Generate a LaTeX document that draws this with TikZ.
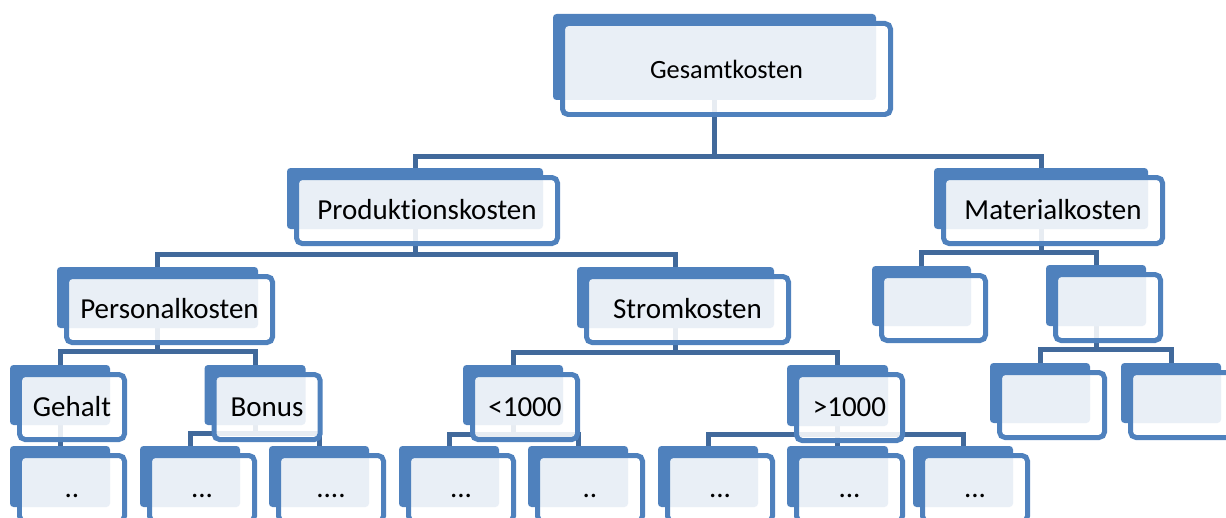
\documentclass[tikz,border=0pt]{standalone}
\usepackage{fontspec}
\setmainfont[Ligatures=NoCommon]{Carlito}
\usetikzlibrary{calc}
\usetikzlibrary{backgrounds}
\definecolor{boxblue}{RGB}{79,129,189}
\definecolor{linkblue}{RGB}{65,105,155}

\tikzset{
    backbox/.style={rectangle, fill=boxblue, rounded corners=0.07cm, inner sep=0pt, outer sep=0pt},
    frontbox/.style={draw=boxblue, line width=0.1cm, fill=white, fill opacity=0.88, draw opacity=1, rounded corners=0.11cm},
    boxtext/.style={inner sep=0pt, text height=0.62em, text depth=0pt},
    link/.style={draw=linkblue, line width=0.1cm},
}

\begin{document}
\begin{tikzpicture}[x=0.02cm, y=-0.02cm]
    \clip (0,0) rectangle (1226,517);

    % boxes: name / centre x / centre y / width / height / font size / label
    \foreach \n/\x/\y/\w/\h/\s/\t in {
        gesamt/714.5/57/323/86/15/{Gesamtkosten},
        produktion/415/198.5/256/61/16.5/{Produktionskosten},
        material/1041/198.5/214/61/16.5/{Materialkosten},
        personal/157.5/297.5/201/61/16.5/{Personalkosten},
        strom/675.5/297.5/197/61/16.5/{Stromkosten},
        leer1/921.5/296/99/60/16.5/{},
        leer2/1096/295.5/100/61/16.5/{},
        gehalt/60/395/100/60/16.5/{Gehalt},
        bonus/255/395/101/60/16.5/{Bonus},
        klein/513/395/100/60/16.5/{<1000},
        gross/837.5/395.5/101/61/16.5/{>1000},
        leer3/1040/393/100/60/16.5/{},
        leer4/1171/393/100/60/16.5/{},
        g1/60/476.5/100/61/16.5/{..},
        b1/190/476.5/100/61/16.5/{...},
        b2/319/476.5/100/61/16.5/{....},
        k1/449/476.5/100/61/16.5/{...},
        k2/578/476.5/100/61/16.5/{..},
        r1/708/476.5/100/61/16.5/{...},
        r2/837.5/476.5/101/61/16.5/{...},
        r3/963/476.5/100/61/16.5/{...}%
    } {
        \node[backbox, minimum width=\w*0.02cm, minimum height=\h*0.02cm] (\n) at (\x,\y) {};
        \draw[frontbox] ($(\n.north west)+(9.5,9.5)$) rectangle ($(\n.south east)+(14.5,14.5)$);
        \node[boxtext, font=\fontsize{\s}{\s}\selectfont] (\n-text) at ($(\n.center)+(12,16)$) {\t};
    }

    % elbow links, kept under the boxes
    \begin{pgfonlayer}{background}
        \foreach \p/\d/\c in {gesamt/56/produktion, gesamt/56/material,
                produktion/25/personal, produktion/25/strom,
                material/23/leer1, material/23/leer2,
                personal/23/gehalt, personal/23/bonus,
                strom/24/klein, strom/24/gross,
                leer2/23/leer3, leer2/23/leer4,
                bonus/8.5/b1, bonus/8.5/b2,
                klein/9/k1, klein/9/k2,
                gross/8/r1, gross/8/r2, gross/8/r3}
            \draw[link] (\p.south) -- ++(0,\d) -| (\c.north);
        \draw[link] (gehalt.south) -- (g1.north);
    \end{pgfonlayer}
\end{tikzpicture}
\end{document}
